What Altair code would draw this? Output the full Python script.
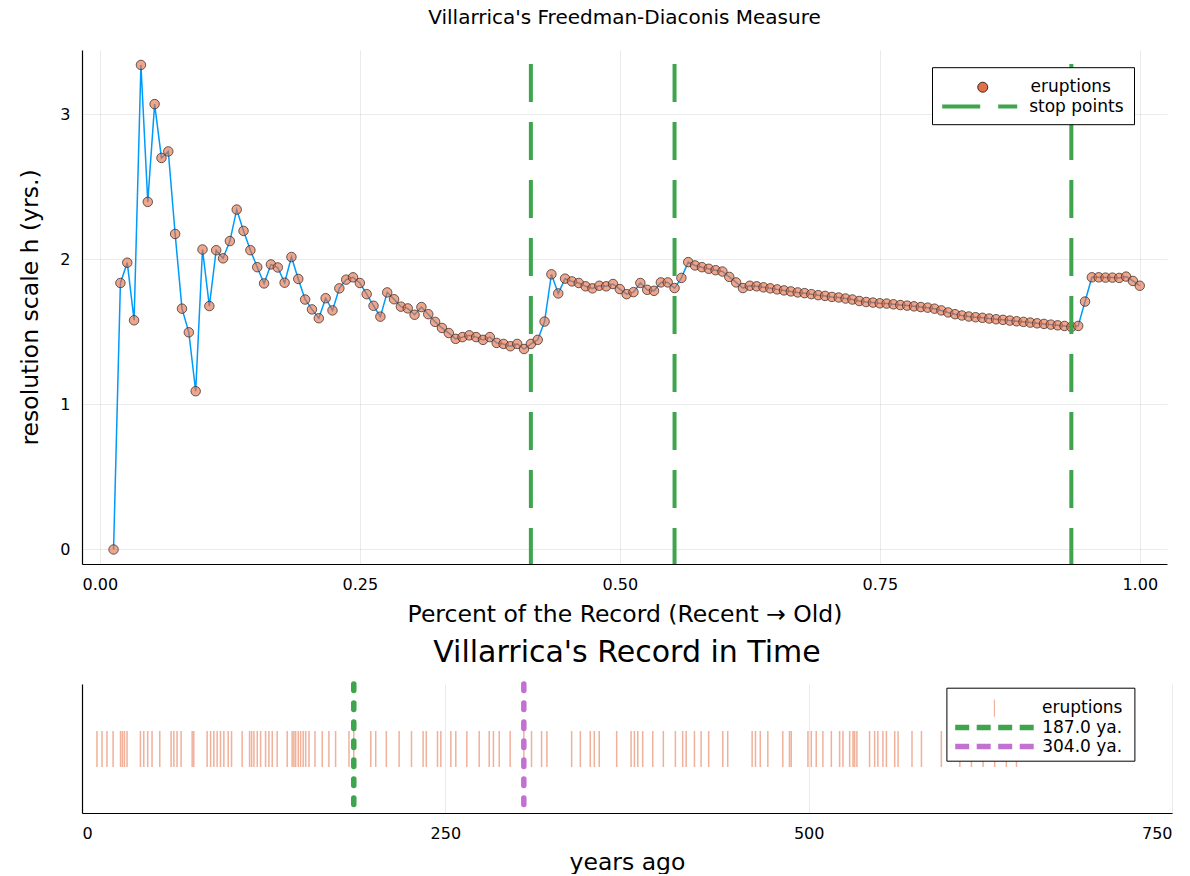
import altair as alt
import pandas as pd

FONT = "DejaVu Sans"

# Freedman-Diaconis resolution scale h (yrs.) after each successive eruption,
# ordered from the most recent eruption to the oldest one
h_scale = [
    0.000, 1.837, 1.977, 1.580, 3.340, 2.396, 3.070, 2.699, 2.744, 2.175,
    1.660, 1.497, 1.091, 2.068, 1.678, 2.063, 2.007, 2.126, 2.343, 2.196,
    2.063, 1.946, 1.834, 1.965, 1.944, 1.839, 2.016, 1.865, 1.723, 1.655,
    1.594, 1.732, 1.648, 1.800, 1.860, 1.876, 1.837, 1.760, 1.680, 1.605,
    1.772, 1.725, 1.674, 1.662, 1.618, 1.671, 1.622, 1.569, 1.527, 1.492,
    1.452, 1.464, 1.476, 1.464, 1.445, 1.464, 1.424, 1.417, 1.401, 1.417,
    1.382, 1.417, 1.445, 1.571, 1.897, 1.765, 1.867, 1.848, 1.837, 1.814,
    1.800, 1.818, 1.814, 1.830, 1.795, 1.760, 1.774, 1.837, 1.790, 1.783,
    1.841, 1.841, 1.802, 1.872, 1.981, 1.958, 1.946, 1.935, 1.925, 1.916,
    1.879, 1.841, 1.802, 1.818, 1.814, 1.807, 1.800, 1.793, 1.786, 1.779,
    1.772, 1.767, 1.760, 1.753, 1.748, 1.741, 1.737, 1.730, 1.723, 1.713,
    1.706, 1.702, 1.697, 1.695, 1.690, 1.685, 1.681, 1.676, 1.671, 1.667,
    1.660, 1.648, 1.634, 1.622, 1.613, 1.606, 1.601, 1.597, 1.592, 1.587,
    1.583, 1.578, 1.573, 1.569, 1.564, 1.559, 1.555, 1.550, 1.545, 1.541,
    1.534, 1.541, 1.709, 1.876, 1.876, 1.874, 1.874, 1.872, 1.881, 1.851,
    1.818,
]

# eruptions in the record; h is first evaluated at the second one
record_size = 152
first_rank = 2
# ranks (within the record) where the scale is cut
stop_ranks = [63, 84, 142]

# eruption dates, years ago
eruption_years = [
    10.3, 13.8, 17.2, 21.4, 26.5, 27.8, 29.2, 31.0, 40.2, 42.5,
    45.2, 48.2, 53.5, 61.3, 63.2, 65.4, 68.2, 75.8, 76.9, 86.1,
    88.5, 90.7, 93.0, 95.3, 97.6, 100.6, 102.9, 110.2, 115.3, 116.7,
    118.3, 120.6, 122.9, 126.3, 128.6, 130.9, 134.3, 141.2, 144.6, 145.8,
    147.0, 148.8, 150.4, 152.2, 153.9, 156.2, 160.3, 165.3, 169.9, 174.5,
    183.7, 187.0, 198.7, 202.1, 209.4, 218.2, 226.7, 234.7, 236.9, 244.6,
    246.9, 253.8, 257.2, 264.8, 273.3, 280.2, 283.1, 287.1, 294.6, 304.0,
    309.3, 316.2, 319.9, 336.9, 342.9, 349.7, 352.5, 355.9, 367.9, 377.8,
    380.1, 382.4, 385.8, 392.7, 400.0, 408.3, 413.3, 415.7, 421.4, 426.0,
    431.2, 440.9, 444.3, 461.1, 463.4, 466.7, 471.9, 482.2, 486.8, 488.0,
    499.5, 501.8, 505.2, 509.8, 515.6, 521.3, 523.6, 528.2, 530.5, 531.6,
    533.2, 541.9, 545.4, 547.6, 551.1, 553.5, 559.2, 561.5, 571.1, 577.6,
    591.3, 604.0, 612.0, 620.0, 628.0, 636.0, 643.0,
]

# split points marked on the time axis
split_years = [187.0, 304.0]
split_labels = ["187.0 ya.", "304.0 ya."]

ORANGE = "#E36F47"
BLUE = "#009AFA"
GREEN = "#3EA44E"
PURPLE = "#C271D2"

fd = pd.DataFrame({
    "pct": [(first_rank + k) / record_size for k in range(len(h_scale))],
    "h": h_scale,
    "series": "eruptions",
})
stops = pd.DataFrame({
    "pct": [r / record_size for r in stop_ranks],
    "series": "stop points",
})
rug = pd.DataFrame({"year": eruption_years, "series": "eruptions"})
splits = [
    pd.DataFrame({"year": [y], "series": [lab]})
    for y, lab in zip(split_years, split_labels)
]

LEG = dict(labelFont=FONT, labelFontSize=17, labelColor="#000", orient="none")

# ---------------- upper panel: resolution scale ----------------
x_top = alt.X(
    "pct:Q",
    scale=alt.Scale(domain=[-0.0172, 1.0262], nice=False, zero=False),
    axis=alt.Axis(
        values=[0, 0.25, 0.5, 0.75, 1.0], format=".2f",
        title="Percent of the Record (Recent → Old)",
        labelPadding=12, titlePadding=10,
    ),
)
y_top = alt.Y(
    "h:Q",
    scale=alt.Scale(domain=[-0.1, 3.443], nice=False, zero=False),
    axis=alt.Axis(
        values=[0, 1, 2, 3], format="d",
        title="resolution scale h (yrs.)",
        labelPadding=12, titlePadding=18, minExtent=22, maxExtent=22,
    ),
)

# framed legend box holding the marker entry; a hidden bottom title gives the
# box a second row, where the frameless dashed-line legend is placed.
# The trailing spaces (kept by a zero-width end mark) widen the box.
erupt_color = alt.Color(
    "series:N",
    scale=alt.Scale(domain=["eruptions"], range=[ORANGE]),
    legend=alt.Legend(
        title=".", titleOpacity=0, titleOrient="bottom", titleFont=FONT,
        titleFontSize=13, titlePadding=4,
        legendX=850, legendY=17.2, padding=11.5, zindex=0,
        symbolType="circle", symbolSize=100, symbolOffset=30.75, labelOffset=39.25,
        symbolFillColor="#EDA48B", symbolStrokeColor="#3a2a24", symbolStrokeWidth=1,
        symbolOpacity=1, strokeColor="#000", fillColor="#fff",
        labelExpr="datum.label + '  \u200b'", **LEG,
    ),
)
stop_color = alt.Color(
    "series:N",
    scale=alt.Scale(domain=["stop points"], range=[GREEN]),
    legend=alt.Legend(
        title=None, legendX=897.7 - 39.5, legendY=56.5 - 39.5, padding=0, zindex=1,
        symbolType="stroke", symbolSize=5625, symbolOffset=0, labelOffset=10,
        symbolStrokeColor=GREEN, symbolStrokeWidth=4, symbolDash=[38, 18],
        symbolOpacity=1, **LEG,
    ),
)

line = alt.Chart(fd).mark_line(color=BLUE, strokeWidth=1.5).encode(x=x_top, y=y_top)
points = alt.Chart(fd).mark_circle(
    size=90, opacity=1, fillOpacity=0.62,
    stroke="#3a2a24", strokeWidth=1, strokeOpacity=0.75,
).encode(x=x_top, y=y_top, color=erupt_color)
stop_rules = alt.Chart(stops).mark_rule(
    strokeWidth=4, strokeDash=[38, 20], strokeDashOffset=44,
).encode(x=x_top, color=stop_color)

top = (
    alt.layer(line, points, stop_rules)
    .resolve_scale(color="independent")
    .properties(
        width=1085, height=514,
        title=alt.Title("Villarrica's Freedman-Diaconis Measure", fontSize=20, offset=20),
    )
)

# ---------------- lower panel: record in time ----------------
x_bot = alt.X(
    "year:Q",
    scale=alt.Scale(domain=[0, 750], nice=False, zero=False),
    axis=alt.Axis(
        values=[0, 250, 500, 750], format="d", title="years ago",
        labelPadding=12, titlePadding=9,
    ),
)
# no visible labels here; the hidden one-character title keeps the same
# left extent as the upper panel so both plot areas line up
y_bot_axis = alt.Axis(
    title=".", titleOpacity=0,
    labels=False, grid=False,
    titlePadding=18, minExtent=22, maxExtent=22,
)

rug_color = alt.Color(
    "series:N",
    scale=alt.Scale(domain=["eruptions"], range=[ORANGE]),
    legend=alt.Legend(
        title=".", titleOpacity=0, titleOrient="bottom", titleFontSize=17, titlePadding=14,
        legendX=864.4, legendY=3.7, padding=11.5, zindex=0,
        symbolType="M0,-1L0,1", symbolSize=289, symbolOffset=27.5, labelOffset=38.6,
        symbolStrokeColor=ORANGE, symbolStrokeWidth=1, symbolOpacity=0.6,
        strokeColor="#000", fillColor="#fff", **LEG,
    ),
)


def split_color(label, color, row_y):
    return alt.Color(
        "series:N",
        scale=alt.Scale(domain=[label], range=[color]),
        legend=alt.Legend(
            title=None, legendX=912.2 - 42, legendY=row_y - 42, padding=0, zindex=1,
            symbolType="stroke", symbolSize=79 * 79, symbolOffset=0, labelOffset=5,
            symbolStrokeColor=color, symbolStrokeWidth=5.5, symbolDash=[14, 7.5],
            symbolOpacity=1, **LEG,
        ),
    )


rug_rules = alt.Chart(rug).mark_rule(strokeWidth=1.5, opacity=0.55).encode(
    x=x_bot,
    y=alt.value(47),
    y2=alt.value(83),
    color=rug_color,
)
split_rules = [
    alt.Chart(df).mark_rule(
        strokeWidth=5.5, strokeDash=[6.5, 12.5], strokeCap="round",
    ).encode(x=x_bot, color=split_color(lab, col, ry))
    for df, lab, col, ry in zip(splits, split_labels, [GREEN, PURPLE], [43, 62])
]
# zero-height helper carrying the left axis line of the panel
frame = alt.Chart(pd.DataFrame({"v": [0.0]})).mark_rule(opacity=0).encode(
    y=alt.Y("v:Q", scale=alt.Scale(domain=[0, 1]), axis=y_bot_axis),
)

bottom = (
    alt.layer(frame, rug_rules, *split_rules)
    .resolve_scale(color="independent")
    .properties(
        width=1090, height=129,
        title=alt.Title("Villarrica's Record in Time", fontSize=30, offset=13),
    )
)

chart = (
    alt.vconcat(top, bottom, spacing=12)
    .properties(padding={"left": 18, "top": 8, "right": 10, "bottom": 0})
    .configure_view(strokeWidth=0)
    .configure_title(font=FONT, fontWeight="normal", color="#000", anchor="middle")
    .configure_axis(
        labelFont=FONT, labelFontSize=16, labelColor="#000",
        titleFont=FONT, titleFontSize=23.5, titleFontWeight="normal", titleColor="#000",
        domainColor="#000", domainWidth=1.2, ticks=False, tickSize=0,
        gridColor="#000", gridOpacity=0.08, gridWidth=1,
    )
)

chart.save("out.html", embed_options={"renderer": "svg", "actions": False})
